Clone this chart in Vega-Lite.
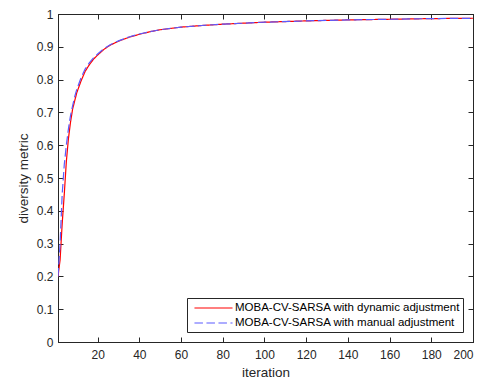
{
  "$schema": "https://vega.github.io/schema/vega-lite/v6.json",
  "width": 415,
  "height": 328,
  "autosize": {"type": "none"},
  "padding": {"left": 58, "top": 14, "right": 6, "bottom": 39},
  "config": {
    "font": "Liberation Sans",
    "view": {"stroke": "#262626", "strokeWidth": 1},
    "axis": {
      "grid": false,
      "domainColor": "#262626",
      "tickColor": "#262626",
      "labelColor": "#262626",
      "titleColor": "#262626",
      "labelFontSize": 12,
      "titleFontSize": 13.5,
      "titleFontWeight": "normal",
      "tickSize": -5,
      "labelFont": "Liberation Sans",
      "titleFont": "Liberation Sans"
    },
    "legend": {
      "title": null,
      "orient": "bottom-right",
      "offset": 10,
      "strokeColor": "#262626",
      "fillColor": "white",
      "padding": 3,
      "labelFontSize": 11.5,
      "labelColor": "#000000",
      "labelLimit": 400,
      "symbolType": "M-0.4,0H5.6",
      "symbolSize": 161,
      "symbolStrokeWidth": 1.2,
      "rowPadding": 2,
      "labelOffset": 31,
      "cornerRadius": 0
    }
  },
  "data": {
    "values": [
      {"iteration": 1, "value": 0.2, "series": "MOBA-CV-SARSA with dynamic adjustment"},
      {"iteration": 2, "value": 0.25, "series": "MOBA-CV-SARSA with dynamic adjustment"},
      {"iteration": 3, "value": 0.36, "series": "MOBA-CV-SARSA with dynamic adjustment"},
      {"iteration": 4, "value": 0.45, "series": "MOBA-CV-SARSA with dynamic adjustment"},
      {"iteration": 5, "value": 0.55, "series": "MOBA-CV-SARSA with dynamic adjustment"},
      {"iteration": 6, "value": 0.62, "series": "MOBA-CV-SARSA with dynamic adjustment"},
      {"iteration": 7, "value": 0.67, "series": "MOBA-CV-SARSA with dynamic adjustment"},
      {"iteration": 8, "value": 0.71, "series": "MOBA-CV-SARSA with dynamic adjustment"},
      {"iteration": 9, "value": 0.735, "series": "MOBA-CV-SARSA with dynamic adjustment"},
      {"iteration": 10, "value": 0.76, "series": "MOBA-CV-SARSA with dynamic adjustment"},
      {"iteration": 12, "value": 0.795, "series": "MOBA-CV-SARSA with dynamic adjustment"},
      {"iteration": 14, "value": 0.825, "series": "MOBA-CV-SARSA with dynamic adjustment"},
      {"iteration": 16, "value": 0.845, "series": "MOBA-CV-SARSA with dynamic adjustment"},
      {"iteration": 18, "value": 0.862, "series": "MOBA-CV-SARSA with dynamic adjustment"},
      {"iteration": 20, "value": 0.875, "series": "MOBA-CV-SARSA with dynamic adjustment"},
      {"iteration": 23, "value": 0.892, "series": "MOBA-CV-SARSA with dynamic adjustment"},
      {"iteration": 26, "value": 0.905, "series": "MOBA-CV-SARSA with dynamic adjustment"},
      {"iteration": 30, "value": 0.917, "series": "MOBA-CV-SARSA with dynamic adjustment"},
      {"iteration": 35, "value": 0.929, "series": "MOBA-CV-SARSA with dynamic adjustment"},
      {"iteration": 40, "value": 0.938, "series": "MOBA-CV-SARSA with dynamic adjustment"},
      {"iteration": 45, "value": 0.946, "series": "MOBA-CV-SARSA with dynamic adjustment"},
      {"iteration": 50, "value": 0.952, "series": "MOBA-CV-SARSA with dynamic adjustment"},
      {"iteration": 60, "value": 0.960, "series": "MOBA-CV-SARSA with dynamic adjustment"},
      {"iteration": 70, "value": 0.965, "series": "MOBA-CV-SARSA with dynamic adjustment"},
      {"iteration": 80, "value": 0.969, "series": "MOBA-CV-SARSA with dynamic adjustment"},
      {"iteration": 90, "value": 0.972, "series": "MOBA-CV-SARSA with dynamic adjustment"},
      {"iteration": 100, "value": 0.975, "series": "MOBA-CV-SARSA with dynamic adjustment"},
      {"iteration": 120, "value": 0.979, "series": "MOBA-CV-SARSA with dynamic adjustment"},
      {"iteration": 140, "value": 0.982, "series": "MOBA-CV-SARSA with dynamic adjustment"},
      {"iteration": 160, "value": 0.984, "series": "MOBA-CV-SARSA with dynamic adjustment"},
      {"iteration": 180, "value": 0.986, "series": "MOBA-CV-SARSA with dynamic adjustment"},
      {"iteration": 200, "value": 0.987, "series": "MOBA-CV-SARSA with dynamic adjustment"},
      {"iteration": 1, "value": 0.2, "series": "MOBA-CV-SARSA with manual adjustment"},
      {"iteration": 2, "value": 0.3, "series": "MOBA-CV-SARSA with manual adjustment"},
      {"iteration": 3, "value": 0.45, "series": "MOBA-CV-SARSA with manual adjustment"},
      {"iteration": 4, "value": 0.54, "series": "MOBA-CV-SARSA with manual adjustment"},
      {"iteration": 5, "value": 0.60, "series": "MOBA-CV-SARSA with manual adjustment"},
      {"iteration": 6, "value": 0.65, "series": "MOBA-CV-SARSA with manual adjustment"},
      {"iteration": 7, "value": 0.69, "series": "MOBA-CV-SARSA with manual adjustment"},
      {"iteration": 8, "value": 0.72, "series": "MOBA-CV-SARSA with manual adjustment"},
      {"iteration": 9, "value": 0.748, "series": "MOBA-CV-SARSA with manual adjustment"},
      {"iteration": 10, "value": 0.77, "series": "MOBA-CV-SARSA with manual adjustment"},
      {"iteration": 12, "value": 0.805, "series": "MOBA-CV-SARSA with manual adjustment"},
      {"iteration": 14, "value": 0.832, "series": "MOBA-CV-SARSA with manual adjustment"},
      {"iteration": 16, "value": 0.851, "series": "MOBA-CV-SARSA with manual adjustment"},
      {"iteration": 18, "value": 0.866, "series": "MOBA-CV-SARSA with manual adjustment"},
      {"iteration": 20, "value": 0.878, "series": "MOBA-CV-SARSA with manual adjustment"},
      {"iteration": 23, "value": 0.894, "series": "MOBA-CV-SARSA with manual adjustment"},
      {"iteration": 26, "value": 0.906, "series": "MOBA-CV-SARSA with manual adjustment"},
      {"iteration": 30, "value": 0.918, "series": "MOBA-CV-SARSA with manual adjustment"},
      {"iteration": 35, "value": 0.930, "series": "MOBA-CV-SARSA with manual adjustment"},
      {"iteration": 40, "value": 0.939, "series": "MOBA-CV-SARSA with manual adjustment"},
      {"iteration": 45, "value": 0.946, "series": "MOBA-CV-SARSA with manual adjustment"},
      {"iteration": 50, "value": 0.952, "series": "MOBA-CV-SARSA with manual adjustment"},
      {"iteration": 60, "value": 0.960, "series": "MOBA-CV-SARSA with manual adjustment"},
      {"iteration": 70, "value": 0.965, "series": "MOBA-CV-SARSA with manual adjustment"},
      {"iteration": 80, "value": 0.969, "series": "MOBA-CV-SARSA with manual adjustment"},
      {"iteration": 90, "value": 0.972, "series": "MOBA-CV-SARSA with manual adjustment"},
      {"iteration": 100, "value": 0.975, "series": "MOBA-CV-SARSA with manual adjustment"},
      {"iteration": 120, "value": 0.979, "series": "MOBA-CV-SARSA with manual adjustment"},
      {"iteration": 140, "value": 0.982, "series": "MOBA-CV-SARSA with manual adjustment"},
      {"iteration": 160, "value": 0.984, "series": "MOBA-CV-SARSA with manual adjustment"},
      {"iteration": 180, "value": 0.986, "series": "MOBA-CV-SARSA with manual adjustment"},
      {"iteration": 200, "value": 0.987, "series": "MOBA-CV-SARSA with manual adjustment"}
    ]
  },
  "layer": [
    {
      "mark": {"type": "line", "strokeWidth": 1.2, "clip": true},
      "encoding": {
        "x": {
          "field": "iteration", "type": "quantitative",
          "scale": {"domain": [1, 200], "nice": false, "zero": false},
          "axis": {"title": "iteration", "values": [20, 40, 60, 80, 100, 120, 140, 160, 180, 200], "labelPadding": 12, "titlePadding": 5}
        },
        "y": {
          "field": "value", "type": "quantitative",
          "scale": {"domain": [0, 1], "nice": false},
          "axis": {"title": "diversity metric", "values": [0, 0.1, 0.2, 0.3, 0.4, 0.5, 0.6, 0.7, 0.8, 0.9, 1], "format": "~g", "labelPadding": 10, "titlePadding": 6}
        },
        "color": {
          "field": "series", "type": "nominal",
          "scale": {"domain": ["MOBA-CV-SARSA with dynamic adjustment", "MOBA-CV-SARSA with manual adjustment"], "range": ["#ff0000", "#5b5bff"]}
        },
        "strokeDash": {
          "field": "series", "type": "nominal",
          "scale": {"domain": ["MOBA-CV-SARSA with dynamic adjustment", "MOBA-CV-SARSA with manual adjustment"], "range": [[1, 0], [8.5, 3.5]]}
        }
      }
    },
    {
      "mark": {"type": "rule", "opacity": 0},
      "encoding": {
        "x": {
          "field": "iteration", "type": "quantitative",
          "scale": {"domain": [1, 200], "nice": false, "zero": false},
          "axis": {"orient": "top", "title": null, "labels": false, "values": [20, 40, 60, 80, 100, 120, 140, 160, 180, 200]}
        },
        "y": {
          "field": "value", "type": "quantitative",
          "scale": {"domain": [0, 1], "nice": false},
          "axis": {"orient": "right", "title": null, "labels": false, "values": [0, 0.1, 0.2, 0.3, 0.4, 0.5, 0.6, 0.7, 0.8, 0.9, 1]}
        }
      }
    }
  ],
  "resolve": {"axis": {"x": "independent", "y": "independent"}}
}
